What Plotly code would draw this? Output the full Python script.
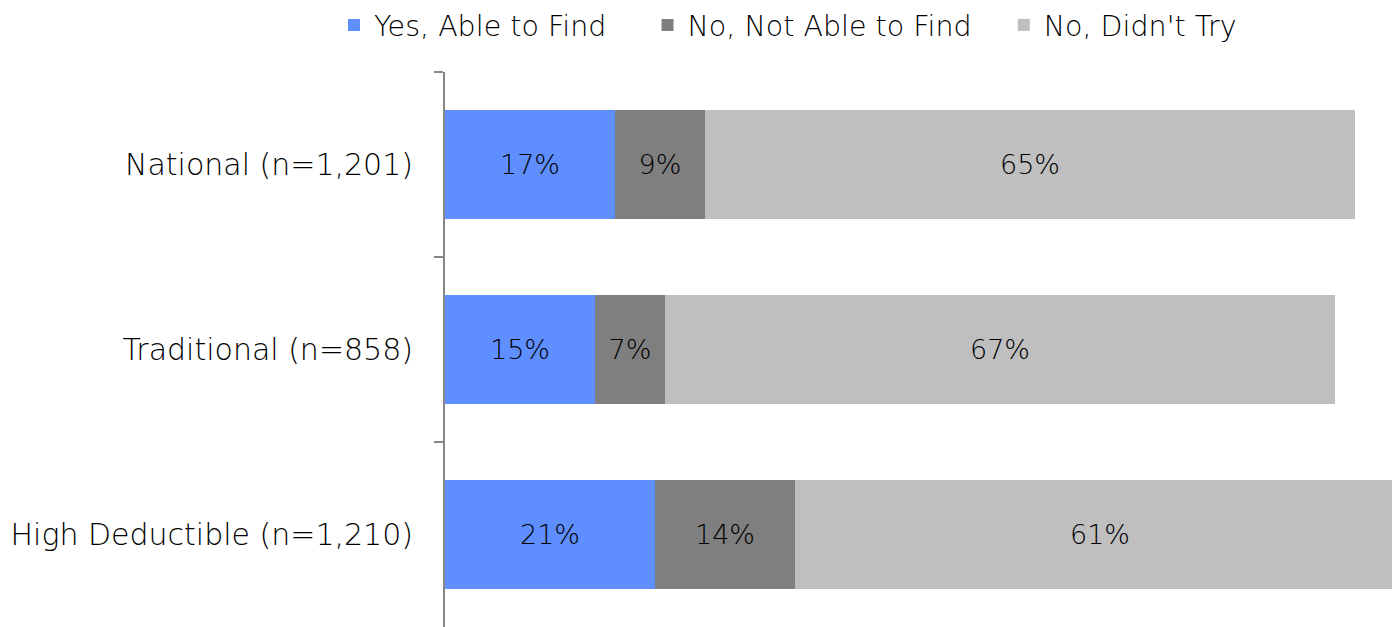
import plotly.graph_objects as go

groups = ["National (n=1,201)", "Traditional (n=858)", "High Deductible (n=1,210)"]
series_names = ["Yes, Able to Find", "No, Not Able to Find", "No, Didn't Try"]
yes_found = [17, 15, 21]
not_found = [9, 7, 14]
didnt_try = [65, 67, 61]
colors = ["#5F8FFF", "#7F7F7F", "#BFBFBF"]

FONT = "DejaVu Sans"
WEIGHT = 200
TICK_SIZE = 30
LEGEND_SIZE = 28.5
LABEL_SIZE = 27

# non-breaking spaces widen the gap after the first two legend entries
legend_labels = [series_names[0] + "\u00a0" * 4,
                 series_names[1] + "\u00a0" * 3,
                 series_names[2]]

fig = go.Figure()
for label, vals, col in zip(legend_labels, [yes_found, not_found, didnt_try], colors):
    fig.add_trace(go.Bar(
        y=groups, x=vals, name=label, orientation="h",
        marker=dict(color=col, line=dict(width=0)),
        text=[f"{v}%" for v in vals], textposition="inside",
        insidetextanchor="middle",
        textfont=dict(family=FONT, size=LABEL_SIZE, color="#000000", weight=WEIGHT),
        hoverinfo="skip",
    ))

fig.update_layout(
    barmode="stack",
    bargap=0.41,
    width=1392, height=627,
    margin=dict(l=445, r=0, t=72, b=0, autoexpand=False),
    paper_bgcolor="white", plot_bgcolor="white",
    font=dict(family=FONT, size=TICK_SIZE, color="#000000", weight=WEIGHT),
    uniformtext=dict(mode="show", minsize=LABEL_SIZE),
    legend=dict(
        orientation="h", traceorder="normal",
        xref="container", yref="container",
        x=334 / 1392, xanchor="left", y=1.0, yanchor="top",
        font=dict(family=FONT, size=LEGEND_SIZE, color="#000000", weight=WEIGHT),
        itemclick=False, itemdoubleclick=False,
        bgcolor="rgba(0,0,0,0)",
    ),
    xaxis=dict(range=[0, 94.7], visible=False, fixedrange=True),
    yaxis=dict(
        categoryorder="array", categoryarray=groups,
        range=[2.5, -0.5],
        showline=True, linecolor="#868686", linewidth=2,
        ticks="outside", tickson="boundaries", ticklen=9, tickwidth=2, tickcolor="#868686",
        ticklabelstandoff=24,
        showgrid=False, zeroline=False,
        tickfont=dict(family=FONT, size=TICK_SIZE, color="#000000", weight=WEIGHT),
        fixedrange=True,
    ),
)

fig.write_html("out.html")
